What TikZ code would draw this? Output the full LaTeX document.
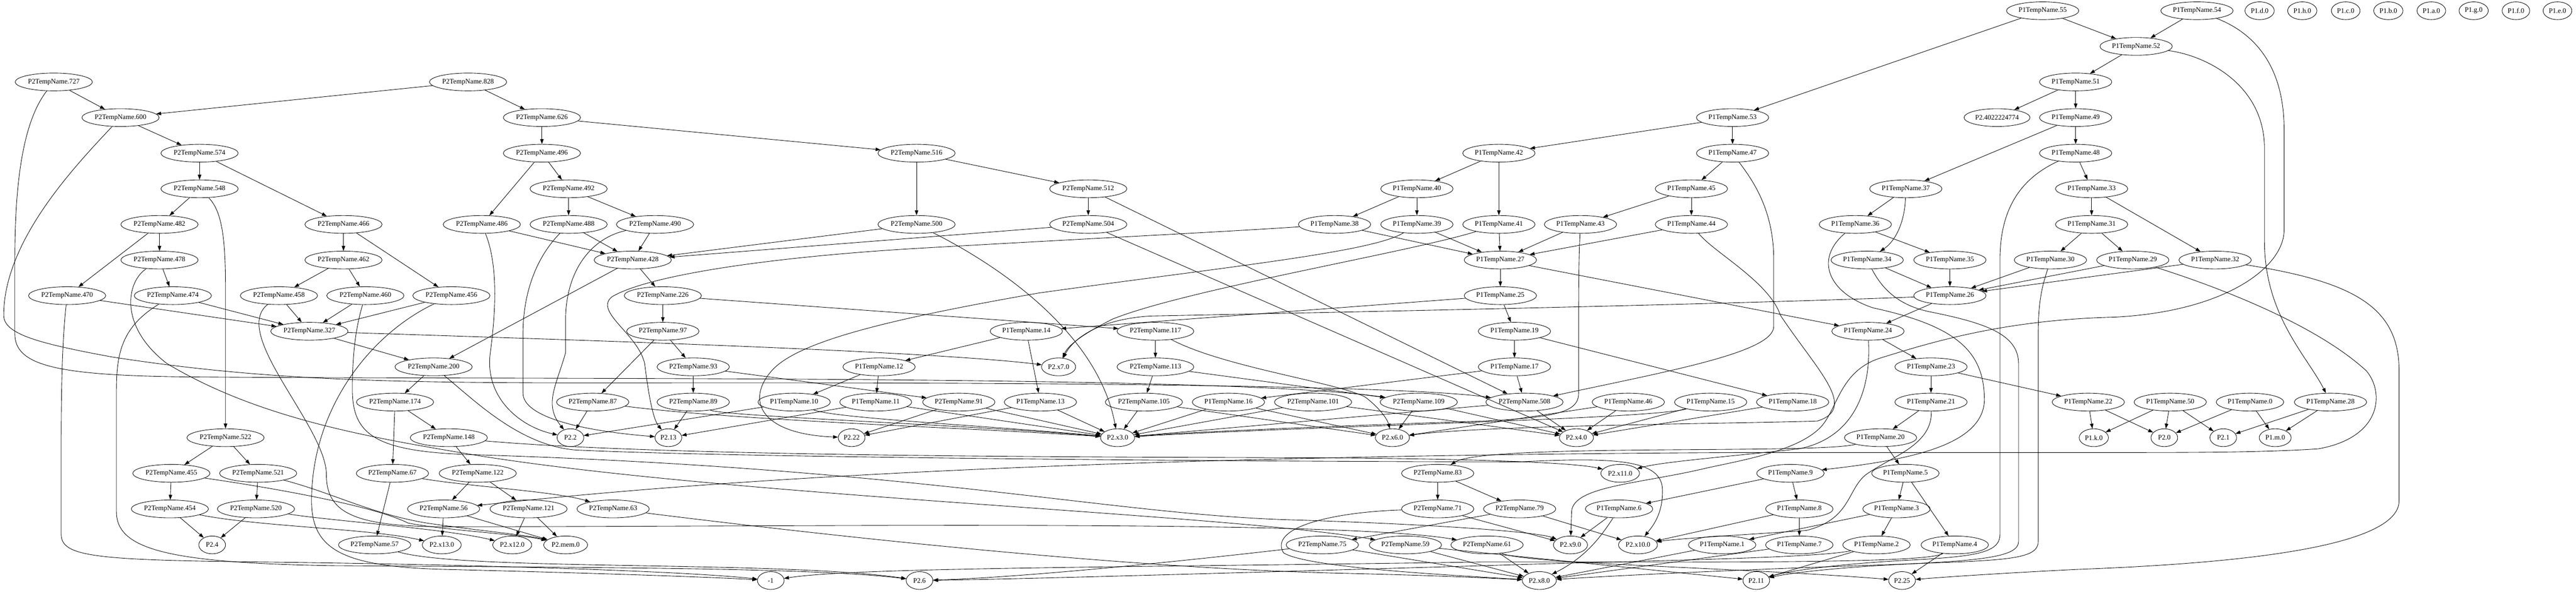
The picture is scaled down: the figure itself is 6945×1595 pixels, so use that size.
\documentclass[tikz,border=0pt]{standalone}
\usepackage{fontspec}
\setmainfont{Liberation Serif}
\usetikzlibrary{shapes.geometric,arrows.meta}
\begin{document}
\begin{tikzpicture}[x=0.75pt,y=-0.75pt,
  nd/.style={draw,ellipse,line width=0.9pt,minimum width=54pt,minimum height=36pt,inner xsep=3pt,inner ysep=1pt,font=\fontsize{14pt}{16pt}\selectfont},
  ed/.style={line width=0.9pt,-{Triangle[length=10pt,width=7pt]}}]
\useasboundingbox (0,0) rectangle (6945,1595);
% row 0
\node[nd] (b55) at (5507,29) {P1TempName.55};
\node[nd] (b54) at (5923,29) {P1TempName.54};
\node[nd] (vd) at (6092,29) {P1.d.0};
\node[nd] (vh) at (6207,29) {P1.h.0};
\node[nd] (vc) at (6324,29) {P1.c.0};
\node[nd] (vb) at (6439,29) {P1.b.0};
\node[nd] (va) at (6555,29) {P1.a.0};
\node[nd] (vg) at (6669,29) {P1.g.0};
\node[nd] (vf) at (6783,29) {P1.f.0};
\node[nd] (ve) at (6895,29) {P1.e.0};
% row 1
\node[nd] (b52) at (5759,125) {P1TempName.52};
% row 2
\node[nd] (a727) at (145,221) {P2TempName.727};
\node[nd] (a828) at (1262,221) {P2TempName.828};
\node[nd] (b51) at (5596,221) {P1TempName.51};
% row 3
\node[nd] (a600) at (325,317) {P2TempName.600};
\node[nd] (a626) at (1461,317) {P2TempName.626};
\node[nd] (b53) at (4671,317) {P1TempName.53};
\node[nd] (c402) at (5384,317) {P2.4022224774};
\node[nd] (b49) at (5596,317) {P1TempName.49};
% row 4
\node[nd] (a574) at (538,413) {P2TempName.574};
\node[nd] (a496) at (1461,413) {P2TempName.496};
\node[nd] (a516) at (2471,413) {P2TempName.516};
\node[nd] (b42) at (4041,413) {P1TempName.42};
\node[nd] (b47) at (4671,413) {P1TempName.47};
\node[nd] (b48) at (5596,413) {P1TempName.48};
% row 5
\node[nd] (a548) at (538,509) {P2TempName.548};
\node[nd] (a492) at (1533,509) {P2TempName.492};
\node[nd] (a512) at (2934,509) {P2TempName.512};
\node[nd] (b40) at (3820,509) {P1TempName.40};
\node[nd] (b45) at (4560,509) {P1TempName.45};
\node[nd] (b37) at (5138,509) {P1TempName.37};
\node[nd] (b33) at (5639,509) {P1TempName.33};
% row 6
\node[nd] (a482) at (430,605) {P2TempName.482};
\node[nd] (a466) at (926,605) {P2TempName.466};
\node[nd] (a486) at (1299,605) {P2TempName.486};
\node[nd] (a488) at (1533,605) {P2TempName.488};
\node[nd] (a490) at (1766,605) {P2TempName.490};
\node[nd] (a500) at (2471,605) {P2TempName.500};
\node[nd] (a504) at (2934,605) {P2TempName.504};
\node[nd] (b38) at (3598,605) {P1TempName.38};
\node[nd] (b39) at (3820,605) {P1TempName.39};
\node[nd] (b41) at (4041,605) {P1TempName.41};
\node[nd] (b43) at (4261,605) {P1TempName.43};
\node[nd] (b44) at (4560,605) {P1TempName.44};
\node[nd] (b36) at (5002,605) {P1TempName.36};
\node[nd] (b31) at (5639,605) {P1TempName.31};
% row 7
\node[nd] (a478) at (430,701) {P2TempName.478};
\node[nd] (a462) at (926,701) {P2TempName.462};
\node[nd] (a428) at (1706,701) {P2TempName.428};
\node[nd] (b27) at (4045,701) {P1TempName.27};
\node[nd] (b34) at (5034,701) {P1TempName.34};
\node[nd] (b35) at (5257,701) {P1TempName.35};
\node[nd] (b30) at (5528,701) {P1TempName.30};
\node[nd] (b29) at (5750,701) {P1TempName.29};
\node[nd] (b32) at (5972,701) {P1TempName.32};
% row 8
\node[nd] (a470) at (181,797) {P2TempName.470};
\node[nd] (a474) at (466,797) {P2TempName.474};
\node[nd] (a458) at (752,797) {P2TempName.458};
\node[nd] (a460) at (985,797) {P2TempName.460};
\node[nd] (a456) at (1217,797) {P2TempName.456};
\node[nd] (a226) at (1787,797) {P2TempName.226};
\node[nd] (b25) at (4045,797) {P1TempName.25};
\node[nd] (b26) at (5257,797) {P1TempName.26};
% row 9
\node[nd] (a327) at (834,893) {P2TempName.327};
\node[nd] (a97) at (1787,893) {P2TempName.97};
\node[nd] (b14) at (2767,893) {P1TempName.14};
\node[nd] (a117) at (3115,893) {P2TempName.117};
\node[nd] (b19) at (4083,893) {P1TempName.19};
\node[nd] (b24) at (5036,893) {P1TempName.24};
% row 10
\node[nd] (a200) at (1169,989) {P2TempName.200};
\node[nd] (a93) at (1869,989) {P2TempName.93};
\node[nd] (b12) at (2370,989) {P1TempName.12};
\node[nd] (x7) at (2854,989) {P2.x7.0};
\node[nd] (a113) at (3115,989) {P2TempName.113};
\node[nd] (b17) at (4083,989) {P1TempName.17};
\node[nd] (b23) at (5206,989) {P1TempName.23};
% row 11
\node[nd] (a174) at (1065,1084) {P2TempName.174};
\node[nd] (a87) at (1598,1084) {P2TempName.87};
\node[nd] (a89) at (1869,1084) {P2TempName.89};
\node[nd] (b10) at (2141,1084) {P1TempName.10};
\node[nd] (b11) at (2361,1084) {P1TempName.11};
\node[nd] (a91) at (2585,1084) {P2TempName.91};
\node[nd] (b13) at (2805,1084) {P1TempName.13};
\node[nd] (a105) at (3084,1084) {P2TempName.105};
\node[nd] (b16) at (3312,1084) {P1TempName.16};
\node[nd] (a101) at (3540,1084) {P2TempName.101};
\node[nd] (a109) at (3825,1084) {P2TempName.109};
\node[nd] (a508) at (4110,1084) {P2TempName.508};
\node[nd] (b46) at (4390,1084) {P1TempName.46};
\node[nd] (b15) at (4612,1084) {P1TempName.15};
\node[nd] (b18) at (4833,1084) {P1TempName.18};
\node[nd] (b21) at (5206,1084) {P1TempName.21};
\node[nd] (b22) at (5630,1084) {P1TempName.22};
\node[nd] (b50) at (5851,1084) {P1TempName.50};
\node[nd] (b0) at (6066,1084) {P1TempName.0};
\node[nd] (b28) at (6283,1084) {P1TempName.28};
% row 12
\node[nd] (a522) at (608,1180) {P2TempName.522};
\node[nd] (a148) at (1210,1180) {P2TempName.148};
\node[nd] (t2) at (1538,1180) {P2.2};
\node[nd] (t13) at (1802,1180) {P2.13};
\node[nd] (t22) at (2296,1180) {P2.22};
\node[nd] (x3) at (3013,1180) {P2.x3.0};
\node[nd] (x6) at (3754,1180) {P2.x6.0};
\node[nd] (x4) at (4250,1180) {P2.x4.0};
\node[nd] (b20) at (5070,1180) {P1TempName.20};
\node[nd] (k0) at (5645,1180) {P1.k.0};
\node[nd] (t0) at (5835,1180) {P2.0};
\node[nd] (t1) at (5994,1180) {P2.1};
\node[nd] (m0) at (6134,1180) {P1.m.0};
% row 13
\node[nd] (a455) at (462,1276) {P2TempName.455};
\node[nd] (a521) at (696,1276) {P2TempName.521};
\node[nd] (a67) at (1058,1276) {P2TempName.67};
\node[nd] (a122) at (1288,1276) {P2TempName.122};
\node[nd] (a83) at (3876,1276) {P2TempName.83};
\node[nd] (x11) at (4368,1276) {P2.x11.0};
\node[nd] (b9) at (4827,1276) {P1TempName.9};
\node[nd] (b5) at (5137,1276) {P1TempName.5};
% row 14
\node[nd] (a454) at (458,1372) {P2TempName.454};
\node[nd] (a520) at (690,1372) {P2TempName.520};
\node[nd] (a56) at (1196,1372) {P2TempName.56};
\node[nd] (a121) at (1425,1372) {P2TempName.121};
\node[nd] (a63) at (1653,1372) {P2TempName.63};
\node[nd] (a71) at (3876,1372) {P2TempName.71};
\node[nd] (a79) at (4097,1372) {P2TempName.79};
\node[nd] (b6) at (4365,1372) {P1TempName.6};
\node[nd] (b8) at (4851,1372) {P1TempName.8};
\node[nd] (b3) at (5113,1372) {P1TempName.3};
% row 15
\node[nd] (t4) at (572,1469) {P2.4};
\node[nd] (a57) at (1010,1469) {P2TempName.57};
\node[nd] (x13) at (1191,1469) {P2.x13.0};
\node[nd] (x12) at (1381,1469) {P2.x12.0};
\node[nd] (mem) at (1525,1469) {P2.mem.0};
\node[nd] (a75) at (3565,1469) {P2TempName.75};
\node[nd] (a59) at (3789,1469) {P2TempName.59};
\node[nd] (a61) at (4009,1469) {P2TempName.61};
\node[nd] (x9) at (4234,1469) {P2.x9.0};
\node[nd] (x10) at (4416,1469) {P2.x10.0};
\node[nd] (b1) at (4643,1469) {P1TempName.1};
\node[nd] (b7) at (4851,1469) {P1TempName.7};
\node[nd] (b2) at (5059,1469) {P1TempName.2};
\node[nd] (b4) at (5270,1469) {P1TempName.4};
% row 16
\node[nd] (neg) at (2078,1565) {-1};
\node[nd] (t6) at (2479,1565) {P2.6};
\node[nd] (x8) at (4150,1565) {P2.x8.0};
\node[nd] (t11) at (4735,1565) {P2.11};
\node[nd] (t25) at (5128,1565) {P2.25};
% straight edges
\foreach \s/\t in {a727/a600, a828/a600, a828/a626, a600/a574, a574/a548, a574/a466, a548/a482, a482/a478, a482/a470, a466/a462, a466/a456, a462/a458, a462/a460, a478/a474, a470/a327, a474/a327, a458/a327, a460/a327, a456/a327, a327/a200, a200/a174, a174/a148, a174/a67, a522/a455, a522/a521, a455/a454, a521/a520, a454/t4, a520/t4, a67/a57, a148/a122, a122/a56, a122/a121, a121/x12, a121/mem, a56/mem, a56/x13,
 a626/a496, a626/a516, a496/a486, a496/a492, a492/a488, a492/a490, a486/a428, a488/a428, a490/a428, a500/a428, a504/a428, a428/a226, a428/a200, a226/a97, a226/a117, a97/a87, a97/a93, a93/a89, a87/t2, a89/t13, b10/t2, b11/t13, b12/b10, b12/b11, b14/b12, b14/b13, a93/a91, a91/t22, a91/x3, b13/t22, b13/x3, a117/a113, a113/a105, a105/x3, b16/x3, a101/x3, b11/x3,
 a516/a500, a516/a512, a512/a504, a512/a508, a504/x4,
 b55/b53, b55/b52, b54/b52, b52/b51, b51/c402, b51/b49, b49/b48, b49/b37, b48/b33, b53/b42, b53/b47, b47/b45, b42/b40, b42/b41, b40/b38, b40/b39, b45/b43, b45/b44, b38/b27, b39/b27, b41/b27, b43/b27, b44/b27, b27/b25, b27/b24, b25/b19, b19/b17, b17/a508, b19/b18, b17/b16, b26/b24, b24/b23, b23/b21, b23/b22, b21/b20, b20/b5, b5/b3, b5/b4, b3/b2, b3/b1, b9/b8, b8/b7, b9/b6, b37/b36, b36/b35, b34/b26, b35/b26, b30/b26, b29/b26, b32/b26, b33/b31, b33/b32, b31/b30, b31/b29, b22/k0, b22/t0, b50/k0, b50/t0, b50/t1, b0/t0, b0/m0, b28/t1, b28/m0,
 a508/x4, a508/x3, a109/x6, a109/x4, a101/x4, b46/x4, b46/x6, b18/x4, b15/x4, a113/a109, a105/x6, b16/x6, b25/b14,
 a83/a71, a83/a79, a71/x9, a79/a75, a79/x10, b6/x9, a75/x8, a59/x8, a61/x8, b1/x8, b7/x8, b2/t11, b4/t25, b8/x10, a59/t11}
  \draw[ed] (\s) -- (\t);
% curved edges
\draw[ed] (a548) .. controls (600,570) and (608,650) .. (608,780) -- (a522);
\draw[ed] (a727) .. controls (60,330) and (40,500) .. (40,700) -- (40,900) .. controls (40,985) and (150,1012) .. (500,1016) .. controls (1500,1024) and (3300,1010) .. (a109);
\draw[ed] (a600) .. controls (200,450) and (10,650) .. (10,850) .. controls (10,900) and (100,925) .. (300,962) .. controls (800,1040) and (1200,1032) .. (2000,1032) .. controls (3000,1032) and (3800,1042) .. (a508);
\draw[ed] (a474) .. controls (330,880) and (314,950) .. (314,1050) -- (314,1380) .. controls (314,1480) and (450,1518) .. (900,1525) .. controls (1600,1530) and (2200,1530) .. (t6);
\draw[ed] (a470) .. controls (170,900) and (165,1000) .. (165,1200) -- (165,1440) .. controls (165,1500) and (250,1510) .. (700,1515) .. controls (1300,1522) and (1850,1540) .. (neg);
\draw[ed] (a456) .. controls (1000,900) and (840,1100) .. (840,1350) .. controls (840,1480) and (920,1528) .. (1200,1535) .. controls (1600,1545) and (1900,1555) .. (neg);
\draw[ed] (a57) .. controls (1250,1540) and (2100,1510) .. (t6);
\draw[ed] (a478) .. controls (340,760) and (320,880) .. (450,980) .. controls (700,1130) and (1000,1180) .. (1300,1230) .. controls (2000,1340) and (3300,1385) .. (a59);
\draw[ed] (a458) .. controls (620,900) and (880,1150) .. (880,1280) .. controls (880,1380) and (950,1420) .. (1200,1420) .. controls (2200,1420) and (3600,1400) .. (a61);
\draw[ed] (a460) .. controls (960,880) and (950,950) .. (950,1050) .. controls (950,1170) and (1010,1215) .. (1250,1225) .. controls (2500,1262) and (3000,1390) .. (3500,1402) .. controls (3900,1415) and (4150,1435) .. (x9);
\draw[ed] (a455) .. controls (700,1310) and (1000,1360) .. (1100,1410) .. controls (1200,1430) and (1400,1440) .. (mem);
\draw[ed] (a521) .. controls (900,1330) and (1000,1385) .. (1150,1410) .. controls (1300,1432) and (1420,1442) .. (mem);
\draw[ed] (a520) .. controls (900,1405) and (1200,1425) .. (x12);
\draw[ed] (a454) .. controls (700,1420) and (1000,1425) .. (x13);
\draw[ed] (a67) .. controls (1250,1310) and (1500,1325) .. (a63);
\draw[ed] (a63) .. controls (2200,1440) and (3000,1530) .. (3600,1545) .. controls (3900,1552) and (4000,1558) .. (x8);
\draw[ed] (a148) .. controls (1800,1232) and (3000,1232) .. (3500,1234) .. controls (4000,1236) and (4250,1248) .. (x11);
\draw[ed] (a200) .. controls (1280,1080) and (1400,1200) .. (1550,1213) .. controls (2000,1235) and (3500,1245) .. (4100,1245) .. controls (4360,1232) and (4480,1240) .. (4482,1320) .. controls (4484,1390) and (4450,1425) .. (x10);
\draw[ed] (a327) .. controls (1500,915) and (2500,945) .. (x7);
\draw[ed] (a486) .. controls (1345,720) and (1335,850) .. (1322,950) .. controls (1305,1070) and (1400,1150) .. (t2);
\draw[ed] (a488) .. controls (1440,700) and (1410,800) .. (1410,900) -- (1410,1060) .. controls (1410,1120) and (1550,1160) .. (t13);
\draw[ed] (a490) .. controls (1600,640) and (1530,720) .. (1525,850) -- (1525,950) .. controls (1500,1040) and (1465,1090) .. (t2);
\draw[ed] (a500) .. controls (2700,720) and (2960,900) .. (x3);
\draw[ed] (a117) .. controls (3300,990) and (3600,1030) .. (3680,1070) .. controls (3720,1100) and (3740,1130) .. (x6);
\draw[ed] (a87) .. controls (2000,1135) and (2600,1152) .. (x3);
\draw[ed] (a89) .. controls (1950,1122) and (2600,1145) .. (x3);
\draw[ed] (b10) .. controls (2250,1128) and (2700,1150) .. (x3);
\draw[ed] (b38) .. controls (3300,625) and (2900,645) .. (2500,668) .. controls (2100,690) and (1750,740) .. (1650,800) .. controls (1600,840) and (1720,900) .. (1738,980) .. controls (1748,1060) and (1760,1130) .. (t13);
\draw[ed] (b39) .. controls (3700,680) and (3300,720) .. (2800,790) .. controls (2400,860) and (2150,920) .. (2080,1000) .. controls (2010,1080) and (2050,1170) .. (t22);
\draw[ed] (b41) .. controls (3800,680) and (3200,780) .. (3000,860) .. controls (2920,900) and (2880,930) .. (x7);
\draw[ed] (b26) .. controls (4600,822) and (3600,842) .. (3100,852) .. controls (2950,862) and (2890,920) .. (x7);
\draw[ed] (b43) .. controls (4256,700) and (4256,800) .. (4256,900) -- (4256,1060) .. controls (4256,1110) and (4200,1125) .. (4000,1135) .. controls (3600,1148) and (3200,1165) .. (x3);
\draw[ed] (b44) .. controls (4620,680) and (4770,760) .. (4800,850) .. controls (4900,1000) and (5010,1100) .. (4900,1135) .. controls (4700,1142) and (4000,1146) .. (x6);
\draw[ed] (b47) .. controls (4720,480) and (4782,560) .. (4782,700) -- (4782,880) .. controls (4782,950) and (4500,1000) .. (a508);
\draw[ed] (b15) .. controls (4450,1130) and (3500,1150) .. (x3);
\draw[ed] (b24) .. controls (5045,1050) and (5000,1180) .. (4850,1210) .. controls (4650,1232) and (4480,1245) .. (x11);
\draw[ed] (b20) .. controls (4900,1225) and (4000,1195) .. (a83);
\draw[ed] (b21) .. controls (5210,1200) and (5100,1230) .. (5030,1280) .. controls (4980,1320) and (4990,1400) .. (4870,1430) .. controls (4700,1442) and (4520,1452) .. (x10);
\draw[ed] (b36) .. controls (4890,700) and (4930,790) .. (5050,830) .. controls (5280,880) and (5350,950) .. (5350,1080) .. controls (5345,1200) and (5150,1240) .. (b9);
\draw[ed] (b29) .. controls (6000,780) and (6250,880) .. (6380,1000) .. controls (6430,1060) and (6420,1180) .. (6250,1210) .. controls (6100,1220) and (5900,1220) .. (5700,1220) -- (4700,1220) .. controls (2500,1230) and (1600,1330) .. (a56);
\draw[ed] (b54) .. controls (6080,90) and (6158,180) .. (6158,350) -- (6158,620) .. controls (6158,720) and (6000,840) .. (5700,855) .. controls (5400,862) and (5200,925) .. (5070,965) .. controls (4960,1000) and (4955,1100) .. (4910,1150) .. controls (4850,1215) and (4700,1240) .. (4600,1262) .. controls (4420,1305) and (4240,1310) .. (4237,1380) -- (x9);
\draw[ed] (b52) .. controls (5950,150) and (6105,230) .. (6105,400) -- (6105,650) .. controls (6105,850) and (6220,960) .. (b28);
\draw[ed] (b32) .. controls (6350,760) and (6468,830) .. (6468,1000) -- (6468,1350) .. controls (6468,1480) and (6000,1520) .. (5600,1535) .. controls (5400,1545) and (5250,1555) .. (t25);
\draw[ed] (b48) .. controls (5450,480) and (5392,560) .. (5392,700) -- (5392,1440) .. controls (5392,1490) and (5330,1500) .. (5150,1510) .. controls (4950,1520) and (4820,1540) .. (t11);
\draw[ed] (b30) .. controls (5510,760) and (5495,800) .. (5495,900) -- (5495,1460) .. controls (5495,1505) and (5420,1510) .. (5200,1518) .. controls (4950,1528) and (4820,1546) .. (t11);
\draw[ed] (b34) .. controls (5080,790) and (5130,825) .. (5200,840) .. controls (5350,870) and (5442,900) .. (5442,980) -- (5442,1460) .. controls (5442,1500) and (5350,1512) .. (5100,1522) .. controls (4700,1535) and (4350,1552) .. (x8);
\draw[ed] (b37) .. controls (5135,600) and (5110,650) .. (b34);
\draw[ed] (b6) .. controls (4320,1440) and (4280,1500) .. (x8);
\draw[ed] (a71) .. controls (3600,1380) and (3420,1420) .. (3460,1490) .. controls (3520,1530) and (3900,1550) .. (x8);
\draw[ed] (a75) .. controls (3300,1500) and (2800,1555) .. (t6);
\draw[ed] (b2) .. controls (4900,1505) and (4400,1512) .. (4000,1525) .. controls (3300,1545) and (2800,1560) .. (t6);
\draw[ed] (b4) .. controls (5200,1520) and (4600,1515) .. (4000,1515) .. controls (3000,1530) and (2300,1530) .. (neg);
\draw[ed] (a61) .. controls (4100,1520) and (4700,1530) .. (t25);
\end{tikzpicture}
\end{document}
